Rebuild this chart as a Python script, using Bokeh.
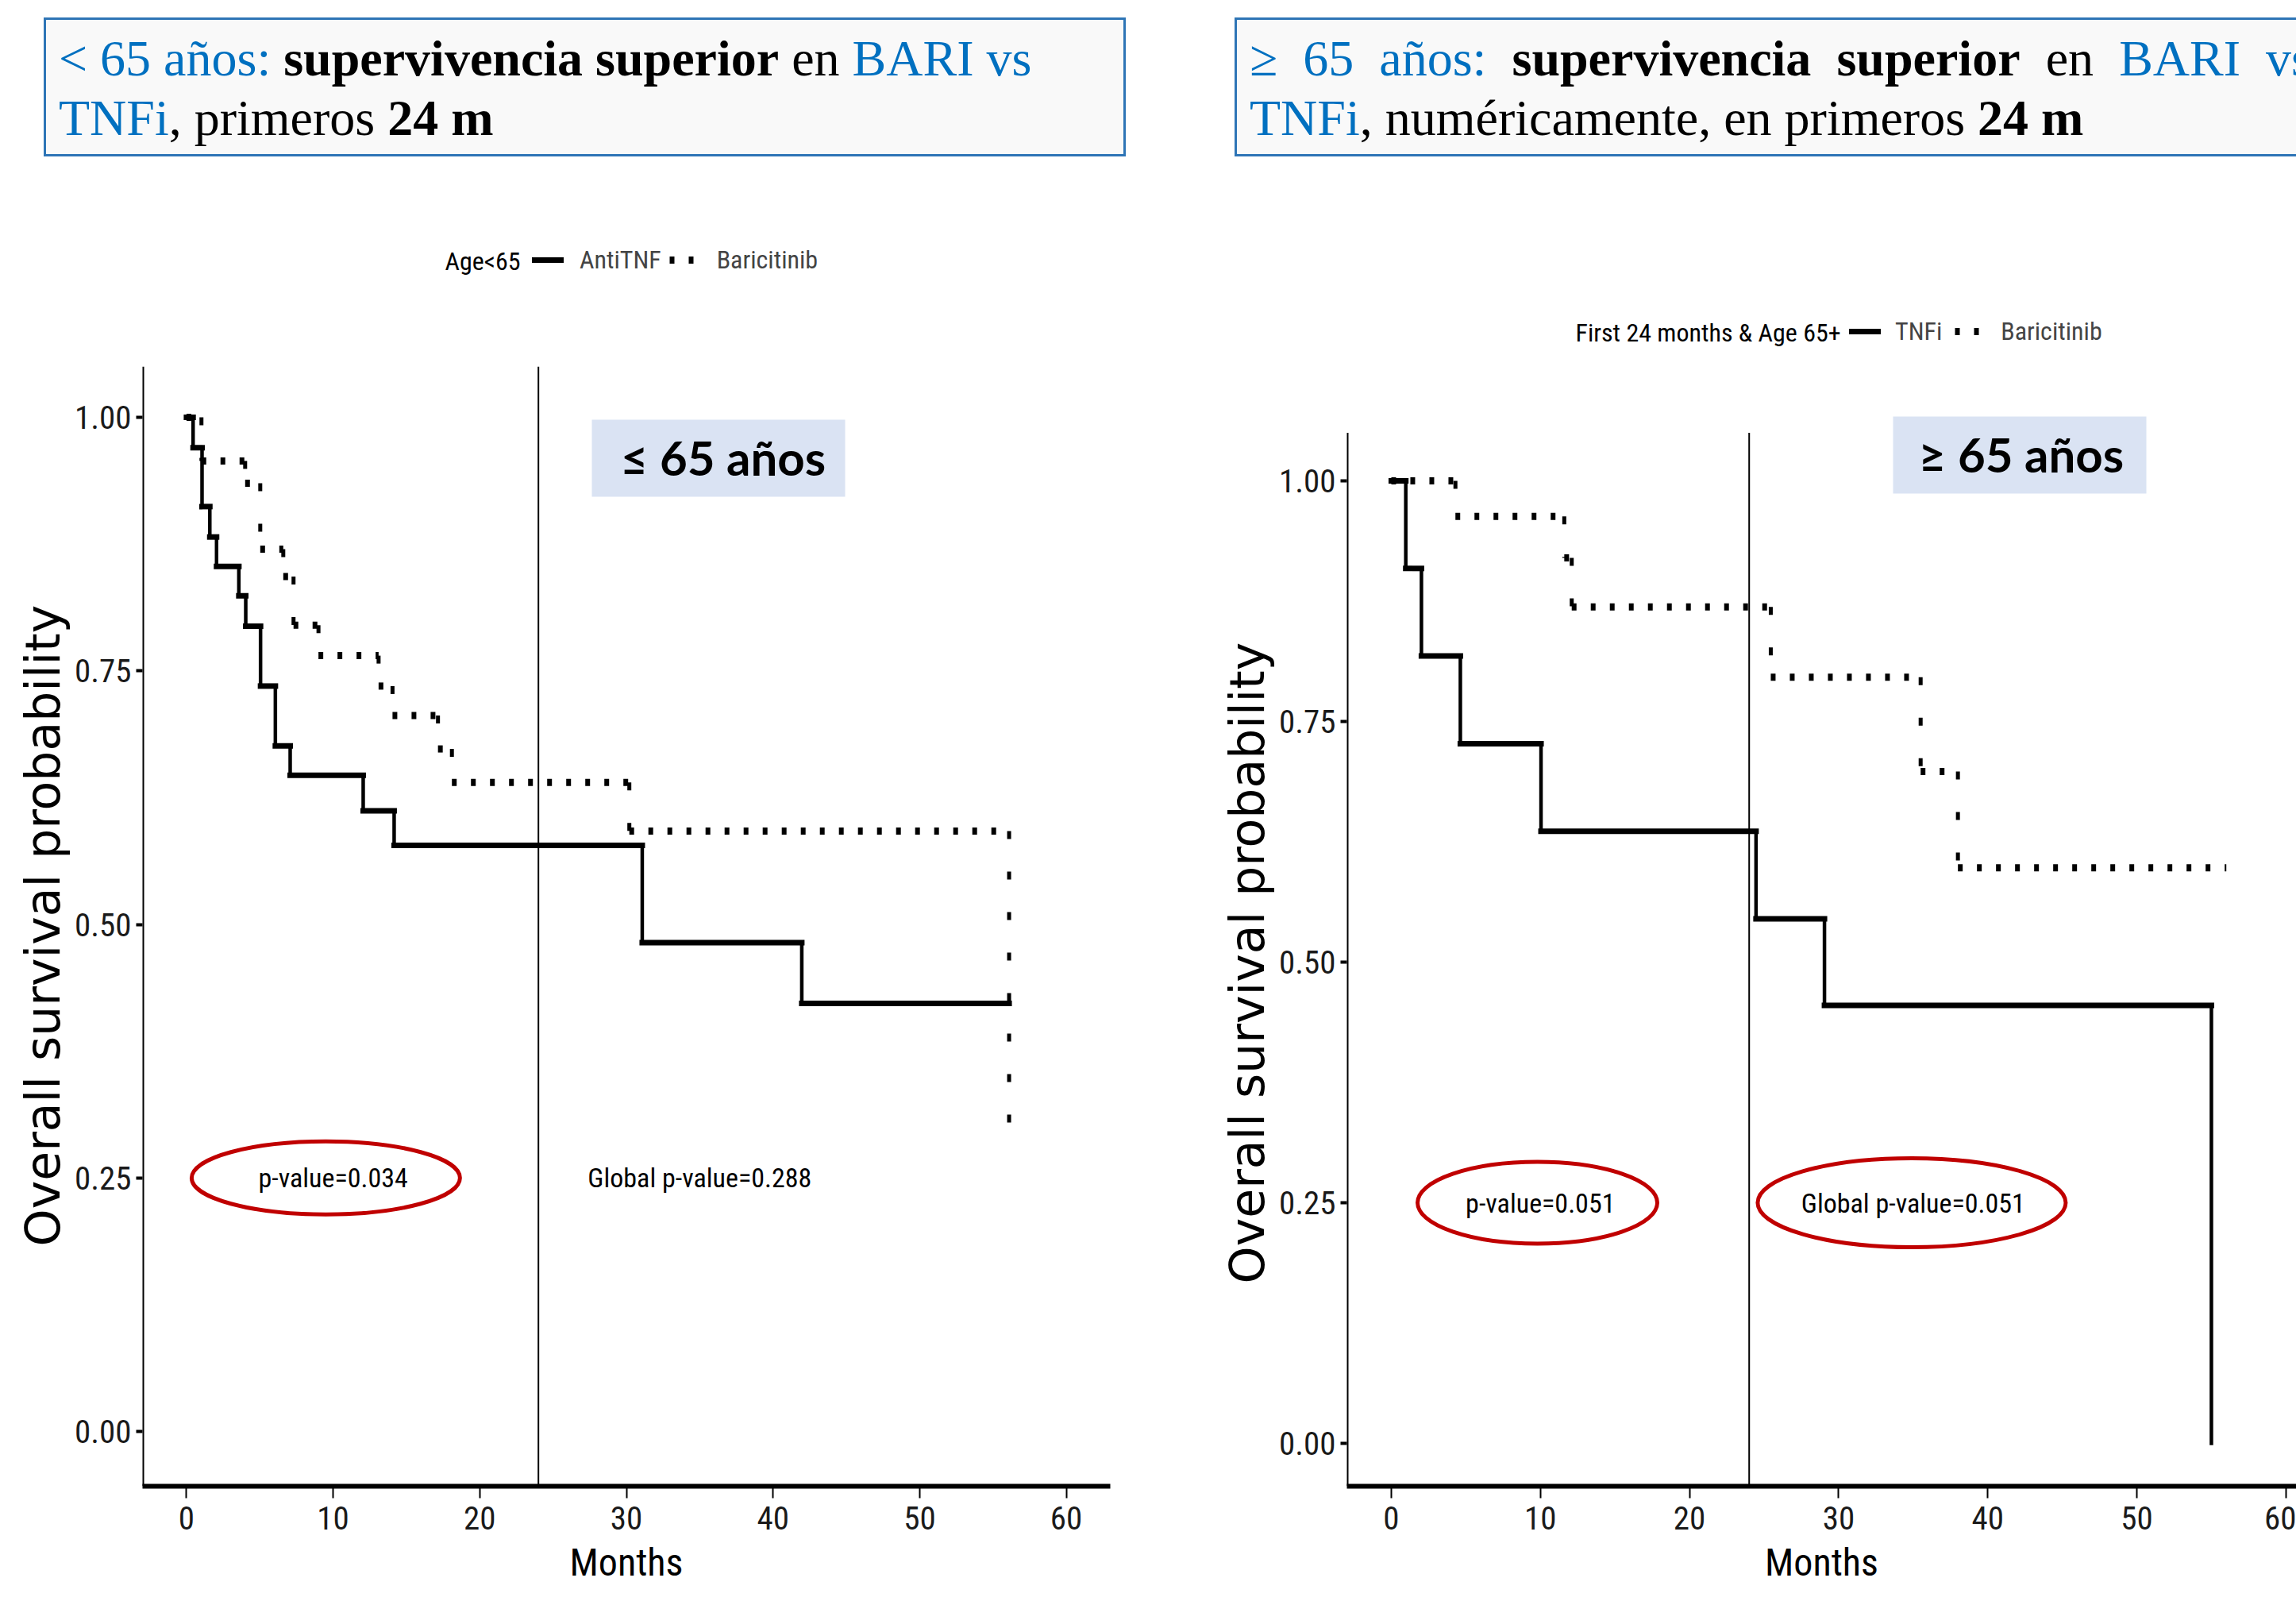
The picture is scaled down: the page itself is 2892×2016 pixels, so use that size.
from bokeh.plotting import figure
from bokeh.models import (ColumnDataSource, Label, BoxAnnotation, Legend, LegendItem,
                          Range1d, NumeralTickFormatter, Div, Title)
from bokeh.layouts import row, column
from bokeh.embed import file_html
from bokeh.resources import INLINE

# ---------------- data ----------------
month_ticks = [0, 10, 20, 30, 40, 50, 60]
surv_ticks = [0.0, 0.25, 0.50, 0.75, 1.00]
cutoff_month = 24

# Age < 65
young_tnf_times = [0.45, 1.06, 1.59, 2.05, 3.57, 4.04, 5.05, 6.06, 7.07, 12.05, 14.16, 31.08, 41.96]
young_tnf_surv = [0.970, 0.912, 0.882, 0.853, 0.824, 0.794, 0.735, 0.676, 0.647, 0.612, 0.578, 0.482, 0.422]
young_tnf_last = 56.1
young_bari_times = [1.02, 4.0, 5.03, 6.6, 7.3, 9.0, 13.1, 14.05, 17.15, 18.1, 30.2, 56.1]
young_bari_surv = [0.957, 0.935, 0.870, 0.843, 0.795, 0.765, 0.735, 0.706, 0.673, 0.640, 0.592, 0.296]
young_bari_last = 56.1

# Age >= 65
old_tnf_times = [0.97, 2.02, 4.63, 10.04, 24.46, 29.05, 55.0]
old_tnf_surv = [0.909, 0.818, 0.727, 0.636, 0.545, 0.455, 0.0]
old_tnf_last = 55.0
old_bari_times = [4.3, 11.6, 12.1, 25.45, 35.5, 38.0]
old_bari_surv = [0.963, 0.920, 0.869, 0.796, 0.698, 0.598]
old_bari_last = 56.0

young_pvalues = ["p-value=0.034", "Global p-value=0.288"]
old_pvalues = ["p-value=0.051", "Global p-value=0.051"]
pvalue_months = [10, 35]
pvalue_surv = 0.25

young_legend = ["Age<65", "AntiTNF", "Baricitinib"]
old_legend = ["First 24 months & Age 65+", "TNFi", "Baricitinib"]
y_title = "Overall survival probability"
x_title = "Months"

# ---------------- styles ----------------
NARROW = "Roboto Condensed, DejaVu Sans Condensed, Liberation Sans, sans-serif"
BLUE = "#0070C0"
RED = "#C00000"
WIN_W, WIN_H = 2892, 2016
HEAD_H = 220              # height of the slide-title strip
CH = WIN_H - HEAD_H       # chart height
FRAME_BOTTOM = 1871       # window y of both x axes
LW = 1450                 # width of the left column
RW = WIN_W - LW
AXIS_TOP = 1.05           # visible top of the y axis line


def km_steps(times, surv, last):
    hx0, hx1, hy, vx, vy0, vy1 = [], [], [], [], [], []
    t0, s0 = 0.0, 1.0
    for t, s in zip(times, surv):
        hx0.append(t0); hx1.append(t); hy.append(s0)
        vx.append(t); vy0.append(s0); vy1.append(s)
        t0, s0 = t, s
    if last > t0:
        hx0.append(t0); hx1.append(last); hy.append(s0)
    return (ColumnDataSource(dict(x0=hx0, x1=hx1, y=hy)),
            ColumnDataSource(dict(x=vx, y0=vy0, y1=vy1)))


def draw_curve(p, times, surv, last, dotted):
    hsrc, vsrc = km_steps(times, surv, last)
    if dotted:
        hr = p.segment(x0="x0", y0="y", x1="x1", y1="y", source=hsrc, line_color="black",
                       line_width=9, line_dash="6 18", line_cap="butt")
        p.segment(x0="x", y0="y0", x1="x", y1="y1", source=vsrc, line_color="black",
                  line_width=5, line_dash="10 41", line_cap="butt")
    else:
        hr = p.segment(x0="x0", y0="y", x1="x1", y1="y", source=hsrc, line_color="black",
                       line_width=7, line_cap="square")
        p.segment(x0="x", y0="y0", x1="x", y1="y1", source=vsrc, line_color="black",
                  line_width=4.5, line_cap="square")
    return hr


def make_panel(width, frame_left_px, x_start, x_end, y_start, y_end, label_center_y):
    p = figure(width=width, height=CH, output_backend="svg", toolbar_location=None,
               x_range=Range1d(x_start, x_end), y_range=Range1d(y_start, y_end),
               min_border_left=frame_left_px, min_border_right=0,
               min_border_top=0, min_border_bottom=WIN_H - FRAME_BOTTOM, margin=(0, 0, 0, 0))
    p.outline_line_color = None
    p.background_fill_color = "white"
    p.border_fill_color = "white"
    p.xgrid.visible = False
    p.ygrid.visible = False

    p.xaxis.ticker = month_ticks
    p.yaxis.ticker = surv_ticks
    p.yaxis.formatter = NumeralTickFormatter(format="0.00")
    for ax in (p.xaxis[0], p.yaxis[0]):
        ax.minor_tick_line_color = None
        ax.major_tick_in = 0
        ax.axis_line_color = "black"
        ax.major_tick_line_color = "black"
        ax.major_label_text_font = NARROW
        ax.major_label_text_font_size = "41px"
        ax.major_label_text_color = "#1a1a1a"
        ax.axis_label_text_font_style = "normal"
        ax.axis_label_text_color = "black"
    p.xaxis.axis_line_width = 6
    p.xaxis.major_tick_line_width = 2
    p.xaxis.major_tick_out = 15
    p.xaxis.major_label_standoff = 10
    p.xaxis.axis_label = x_title
    p.xaxis.axis_label_text_font = NARROW
    p.xaxis.axis_label_text_font_size = "48px"
    p.xaxis.axis_label_standoff = 10

    # the y axis line only covers the plotted range (drawn below as a segment)
    p.yaxis.axis_line_color = None
    p.yaxis.major_tick_line_width = 4
    p.yaxis.major_tick_out = 8
    p.yaxis.major_label_standoff = 6

    # y axis title, centred on the plotted range (not on the whole frame)
    half_len = 405
    p.add_layout(Title(text=y_title, align="left", offset=FRAME_BOTTOM - (label_center_y + half_len),
                       text_font="DejaVu Sans", text_font_size="60px", text_font_style="normal",
                       text_color="black", standoff=4), "left")

    p.segment(x0=[x_start], y0=[y_start], x1=[x_start], y1=[AXIS_TOP],
              line_color="black", line_width=4)
    p.segment(x0=[cutoff_month], y0=[y_start], x1=[cutoff_month], y1=[AXIS_TOP],
              line_color="black", line_width=2)
    return p


def add_text(p, fl, X, Y, text, font, size, color="black", style="normal",
             align="left", baseline="middle"):
    p.add_layout(Label(x=X - fl, y=FRAME_BOTTOM - Y, x_units="screen", y_units="screen",
                       text=text, text_font=font, text_font_size=size, text_color=color,
                       text_font_style=style, text_align=align, text_baseline=baseline))


def add_box(p, fl, X0, X1, Y0, Y1, fill):
    p.add_layout(BoxAnnotation(left=X0 - fl, right=X1 - fl, top=FRAME_BOTTOM - Y0,
                               bottom=FRAME_BOTTOM - Y1,
                               left_units="screen", right_units="screen",
                               top_units="screen", bottom_units="screen",
                               fill_color=fill, fill_alpha=1.0, line_color=None,
                               level="annotation"))


def add_legend(p, fl, title, title_X, key_X, Y, r1, r2, labels, glyph_w, standoff, spacing):
    add_text(p, fl, title_X, Y, title, NARROW, "32px")
    leg = Legend(items=[LegendItem(label=labels[0], renderers=[r1]),
                        LegendItem(label=labels[1], renderers=[r2])],
                 orientation="horizontal", location=(key_X - fl, FRAME_BOTTOM - Y - 18),
                 glyph_width=glyph_w, glyph_height=36, label_height=36,
                 label_standoff=standoff, spacing=spacing, padding=0, margin=0,
                 border_line_color=None, background_fill_alpha=0,
                 label_text_font=NARROW, label_text_font_size="32px")
    p.add_layout(leg)


def header(width, box_left, box_width, line1, line2, justify):
    j = "text-align:justify;text-align-last:justify;" if justify else "white-space:nowrap;"
    return Div(text=(
        f'<div style="position:relative;width:{width}px;height:{HEAD_H}px;overflow:hidden;'
        f'background:white;">'
        f'<div style="position:absolute;left:{box_left}px;top:22px;width:{box_width}px;'
        f'height:175px;box-sizing:border-box;border:3px solid #2E75B6;background:#F9F9F9;'
        f'padding:11px 16px 0 16px;font-family:\'Liberation Serif\',serif;font-size:64px;'
        f'line-height:75px;color:black;">'
        f'<div style="{j}">{line1}</div>'
        f'<div style="white-space:nowrap;">{line2}</div></div></div>'),
        width=width, height=HEAD_H, margin=(0, 0, 0, 0))


def blue(t):
    return f'<span style="color:{BLUE}">{t}</span>'


# ---------------- left panel (< 65) ----------------
L_FL = 179
pl = make_panel(LW, L_FL, -3, 63, -(FRAME_BOTTOM - 1802) / 1277, 1 + (525 - HEAD_H) / 1277, 1164)
pl.min_border_right = LW - 1398
r_tnf = draw_curve(pl, young_tnf_times, young_tnf_surv, young_tnf_last, dotted=False)
r_bar = draw_curve(pl, young_bari_times, young_bari_surv, young_bari_last, dotted=True)

pl.ellipse(x=[9.5], y=[0.25], width=[338], height=[92], width_units="screen",
           height_units="screen", fill_color=None, line_color=RED, line_width=5)
for txt, m in zip(young_pvalues, pvalue_months):
    pl.add_layout(Label(x=m, y=pvalue_surv, text=txt, text_font=NARROW, text_font_size="34px",
                        text_align="center", text_baseline="middle", text_color="black"))
add_legend(pl, L_FL, young_legend[0], 560, 670, 328, r_tnf, r_bar, young_legend[1:], 40, 20, 10)
add_box(pl, L_FL, 745, 1064, 528, 625, "#DAE3F3")
add_text(pl, L_FL, 781, 575, "≤ 65 años", "Lato", "60px", "black", "bold")

head_l = header(LW, 55, 1363,
                f'{blue("&lt; 65 años:")} <b>supervivencia superior</b> en {blue("BARI vs")}',
                f'{blue("TNFi")}, primeros <b>24 m</b>', justify=False)

# ---------------- right panel (>= 65) ----------------
R_FL = 1696
pr = make_panel(RW, R_FL - LW, -2.98, 60.70, -(FRAME_BOTTOM - 1817) / 1212,
                1 + (605 - HEAD_H) / 1212, 1211)
r_tnf2 = draw_curve(pr, old_tnf_times, old_tnf_surv, old_tnf_last, dotted=False)
r_bar2 = draw_curve(pr, old_bari_times, old_bari_surv, old_bari_last, dotted=True)

pr.ellipse(x=[9.8, 34.9], y=[0.25, 0.25], width=[302, 388], height=[103, 112],
           width_units="screen", height_units="screen", fill_color=None,
           line_color=RED, line_width=5)
for txt, m in zip(old_pvalues, pvalue_months):
    pr.add_layout(Label(x=m, y=pvalue_surv, text=txt, text_font=NARROW, text_font_size="34px",
                        text_align="center", text_baseline="middle", text_color="black"))
add_legend(pr, R_FL, old_legend[0], 1984, 2329, 418, r_tnf2, r_bar2, old_legend[1:], 40, 18, 16)
add_box(pr, R_FL, 2384, 2703, 524, 621, "#DAE3F3")
add_text(pr, R_FL, 2416, 571, "≥ 65 años", "Lato", "60px", "black", "bold")

head_r = header(RW, 1555 - LW, 1375,
                f'{blue("≥ 65 años:")} <b>supervivencia superior</b> en {blue("BARI vs")}',
                f'{blue("TNFi")}, numéricamente, en primeros <b>24 m</b>', justify=True)

layout = row(column(head_l, pl, margin=(0, 0, 0, 0)),
             column(head_r, pr, margin=(0, 0, 0, 0)), margin=(0, 0, 0, 0))
open("out.html", "w").write(file_html(layout, INLINE, title="Supervivencia BARI vs TNFi"))
